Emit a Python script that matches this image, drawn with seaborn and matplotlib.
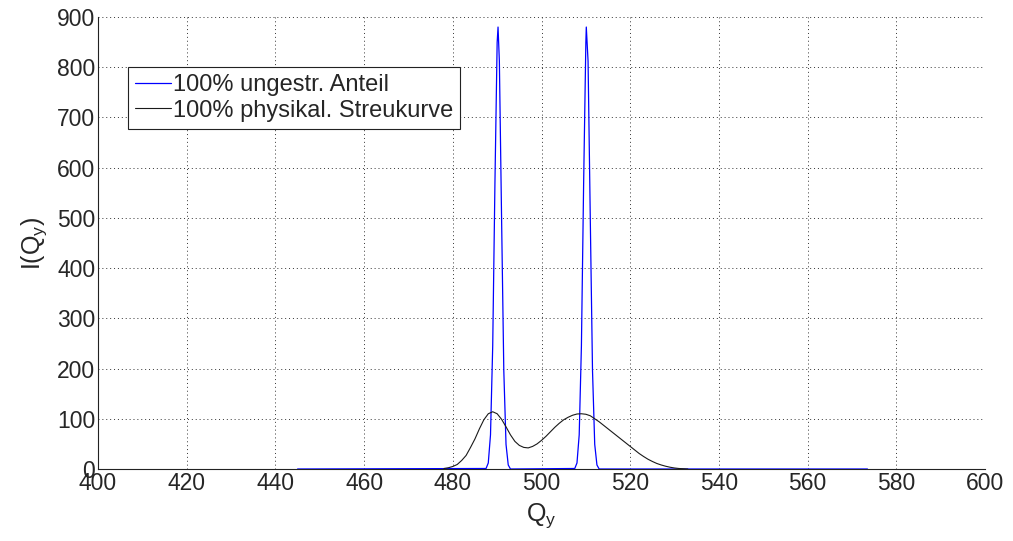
import matplotlib
matplotlib.use("Agg")
import matplotlib.pyplot as plt
import seaborn as sns
import pandas as pd

# Unscattered component: two narrow peaks on a flat zero background
blue_q = [445, 487.5, 488.0, 488.5, 489.0, 489.5, 490.0, 490.2, 490.5, 491.0,
          491.5, 492.0, 492.5, 493.0,
          507.5, 508.0, 508.5, 509.0, 509.5, 510.0, 510.1, 510.5, 511.0,
          511.5, 512.0, 512.5, 513.0, 573.5]
blue_i = [0, 1, 12, 68, 245, 569, 849, 880, 812, 498,
          196, 49, 8, 0,
          1, 12, 68, 245, 569, 849, 880, 812, 498,
          196, 49, 8, 0, 0]

# Physical scattering curve
black_q = list(range(478, 534))
black_i = [1, 2.5, 5, 9, 17, 27, 43, 60, 80, 98,
           110, 114, 110, 99, 84, 68, 55, 47, 43, 42,
           45, 50, 57, 65, 74, 83, 91, 98, 103, 107,
           109.5, 110, 109, 106, 100, 94, 87, 80, 73, 66,
           59, 52, 45, 38, 31, 25, 19.5, 15, 11, 8,
           5.5, 3.5, 2, 1, 0.5, 0]

labels = ["100% ungestr. Anteil", "100% physikal. Streukurve"]
x_ticks = list(range(400, 601, 20))
y_ticks = list(range(0, 901, 100))

sns.set_style("white")
plt.rcParams["font.family"] = ["Liberation Sans", "DejaVu Sans"]
plt.rcParams["mathtext.default"] = "regular"

fig = plt.figure(figsize=(10.13, 5.41), dpi=100)
ax = fig.add_axes([98 / 1013, 1 - 469 / 541, 887 / 1013, 452 / 541])

df_blue = pd.DataFrame({"Q": blue_q, "I": blue_i})
df_black = pd.DataFrame({"Q": black_q, "I": black_i})

sns.lineplot(data=df_blue, x="Q", y="I", ax=ax, color="#0000ff",
             linewidth=0.9, label=labels[0], sort=False, zorder=3)
sns.lineplot(data=df_black, x="Q", y="I", ax=ax, color="#1a1a1a",
             linewidth=0.8, label=labels[1], sort=False, zorder=4)

ax.set_xlim(400, 600)
ax.set_ylim(0, 900)
ax.set_xticks(x_ticks)
ax.set_yticks(y_ticks)
ax.tick_params(axis="both", direction="in", length=5, width=0.8,
               labelsize=16.5, color="#222222", pad=2)
ax.grid(True, linestyle=(0, (1, 3)), color="#333333", linewidth=0.7)

for s in ["top", "right"]:
    ax.spines[s].set_visible(False)
for s in ["left", "bottom"]:
    ax.spines[s].set_color("#222222")
    ax.spines[s].set_linewidth(0.8)

ax.set_xlabel("$Q_y$", fontsize=18, labelpad=5)
ax.set_ylabel("$I(Q_y)$", fontsize=18, labelpad=6)

leg = ax.legend(loc="upper left", bbox_to_anchor=(30 / 887, (469 - 67) / 452),
                borderaxespad=0, fontsize=17, frameon=True, fancybox=False,
                shadow=False, handlelength=1.5, handletextpad=0.1,
                borderpad=0.3, labelspacing=0.15)
leg.get_frame().set_edgecolor("#222222")
leg.get_frame().set_linewidth(0.8)
leg.get_frame().set_alpha(1)

fig.savefig("out.png", dpi=100, facecolor="white")
